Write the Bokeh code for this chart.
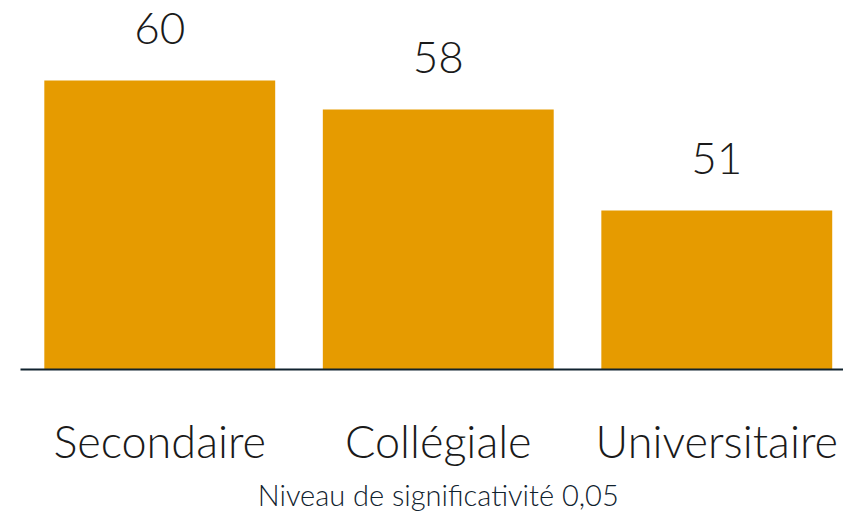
import numpy as np
from bokeh.plotting import figure
from bokeh.models import Range1d, FixedTicker, LinearAxis, ColumnDataSource
from bokeh.core.properties import value
from bokeh.embed import file_html
from bokeh.resources import INLINE

categories = ["Secondaire", "Collégiale", "Universitaire"]
values = [60, 58, 51]
value_labels = ["60", "58", "51"]
footer = "Niveau de significativité 0,05"

FONT = "Lato Light"
BAR = "#E69B00"
INK = "#1a1a1a"
NAVY = "#10222e"

xpos = np.arange(len(categories)) + 0.5
src = ColumnDataSource(dict(x=xpos, top=values, lab=value_labels))

p = figure(width=843, height=518, output_backend="svg", toolbar_location=None,
           frame_width=823, frame_height=369,
           min_border_left=20, min_border_right=0, min_border_top=0, min_border_bottom=149,
           x_range=Range1d(0, 2.955), y_range=Range1d(40, 65.54))

p.vbar(x="x", top="top", bottom=40, width=0.829, source=src, color=BAR, line_color=None)
p.text(x="x", y="top", text="lab", source=src, text_align="center", text_baseline="alphabetic",
       y_offset=-52, text_font=value(FONT), text_font_size="44px", text_color=INK)

p.yaxis.visible = False
p.xgrid.visible = False
p.ygrid.visible = False
p.outline_line_color = None
p.xaxis.ticker = FixedTicker(ticks=list(xpos))
p.xaxis.major_label_overrides = {float(x): c for x, c in zip(xpos, categories)}
p.xaxis.major_tick_line_color = None
p.xaxis.minor_tick_line_color = None
p.xaxis.major_tick_out = 0
p.xaxis.major_tick_in = 0
p.xaxis.axis_line_color = NAVY
p.xaxis.axis_line_width = 2
p.xaxis.major_label_standoff = 44
p.xaxis.major_label_text_font = FONT
p.xaxis.major_label_text_font_size = "45px"
p.xaxis.major_label_text_color = INK

center = len(categories) / 2
ax2 = LinearAxis(ticker=FixedTicker(ticks=[center]), major_label_overrides={center: footer},
                 axis_line_color=None, major_tick_line_color=None, minor_tick_line_color=None,
                 major_tick_out=0, major_tick_in=0, major_label_standoff=6,
                 major_label_text_font=FONT, major_label_text_font_size="29px",
                 major_label_text_color=NAVY)
p.add_layout(ax2, "below")

open("out.html", "w").write(file_html(p, INLINE))
